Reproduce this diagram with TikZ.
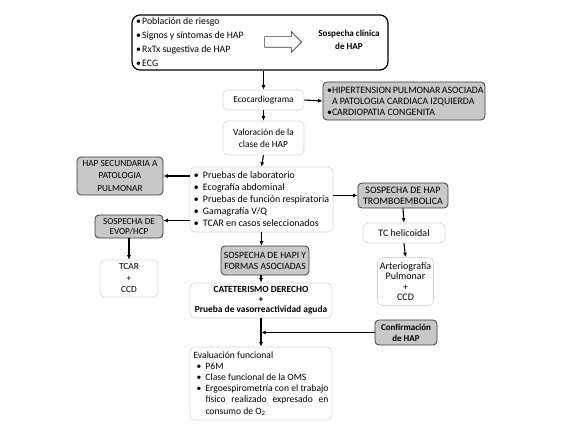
\documentclass[tikz,border=0pt]{standalone}
\usepackage{fontspec}
\setmainfont{Carlito}
\usetikzlibrary{arrows.meta,shapes.arrows,calc}
\definecolor{lightborder}{HTML}{D6D6D6}
\definecolor{darkborder}{HTML}{3A3A3A}
\definecolor{greyfill}{HTML}{C8C8C8}
\tikzset{
  lightbox/.style={draw=lightborder, fill=white, rounded corners=5pt, line width=0.6pt, align=center, inner sep=1pt, font=\fontsize{9.3}{11.5}\selectfont},
  darkbox/.style={draw=darkborder, fill=greyfill, rounded corners=4pt, line width=0.8pt, align=center, inner sep=1pt, font=\fontsize{9.3}{11}\selectfont},
  arr/.style={-{Latex[length=4.5pt,width=4pt]}, line width=1.1pt},
}
\newcommand{\bul}{\makebox[9pt][l]{\textbullet}}
\begin{document}
\begin{tikzpicture}[x=1pt,y=-1pt]
\useasboundingbox (0,0) rectangle (566,436);

% top box
\node[draw=black, line width=1.2pt, rounded corners=8pt, minimum width=256pt, minimum height=55pt] (top) at (260,42.5) {};
\node[anchor=west, align=left, inner sep=0pt, font=\fontsize{9.8}{14}\selectfont] (toplist) at (136,42.5)
  {\makebox[6pt][l]{\textbullet}Población de riesgo\\
   \makebox[6pt][l]{\textbullet}Signos y síntomas de HAP\\
   \makebox[6pt][l]{\textbullet}RxTx sugestiva de HAP\\
   \makebox[6pt][l]{\textbullet}ECG};
\node[single arrow, draw=darkborder, line width=0.6pt, fill=white, inner sep=5pt, minimum height=37pt, single arrow head extend=5pt] (hollow) at (280.5,42) {};
\node[align=center, inner sep=0pt, font=\bfseries\fontsize{9.1}{13}\selectfont] (sosp) at (349,39.5) {Sospecha clínica\\de HAP};

% main column
\node[lightbox, minimum width=81pt, minimum height=20pt] (eco) at (263.5,100) {Ecocardiograma};
\node[darkbox, minimum width=162pt, minimum height=38pt, align=left, font=\fontsize{9.8}{11}\selectfont] (hip) at (404,101)
  {\makebox[154pt][s]{\makebox[5pt][l]{\textbullet}HIPERTENSION PULMONAR ASOCIADA}\\
   \hspace*{5pt}A PATOLOGIA CARDIACA IZQUIERDA\\
   \makebox[5pt][l]{\textbullet}CARDIOPATIA CONGENITA};
\node[lightbox, minimum width=81pt, minimum height=34pt, font=\fontsize{9.4}{12}\selectfont] (val) at (263.5,138) {Valoración de la\\clase de HAP};
\node[lightbox, minimum width=143pt, minimum height=65pt, align=left, font=\fontsize{9.9}{12}\selectfont] (list) at (261.5,199.5)
  {\bul Pruebas de laboratorio\\
   \bul Ecografía abdominal\\
   \bul Pruebas de función respiratoria\\
   \bul Gamagrafía V/Q\\
   \bul TCAR en casos seleccionados};
\node[darkbox, minimum width=86pt, minimum height=38pt, font=\fontsize{9.3}{12.5}\selectfont] (hapsec) at (120,176) {HAP SECUNDARIA A\\PATOLOGIA\\PULMONAR};
\node[darkbox, minimum width=68pt, minimum height=23pt, font=\fontsize{9.2}{10.5}\selectfont] (evop) at (129,226.5) {SOSPECHA DE\\EVOP/HCP};
\node[lightbox, minimum width=58pt, minimum height=37pt, font=\fontsize{9.3}{11.5}\selectfont] (tcar) at (129,278.5) {TCAR\\+\\CCD};
\node[darkbox, minimum width=88pt, minimum height=29pt, font=\fontsize{9.6}{11}\selectfont] (hapi) at (265,260.5) {SOSPECHA DE HAPI Y\\FORMAS ASOCIADAS};
\node[lightbox, minimum width=142pt, minimum height=35pt, font=\bfseries\fontsize{9.4}{10}\selectfont] (cat) at (261,300.5) {CATETERISMO DERECHO\\+\\Prueba de vasorreactividad aguda};
\node[darkbox, minimum width=62pt, minimum height=25pt, font=\bfseries\fontsize{9}{11}\selectfont] (conf) at (406,332.5) {Confirmación\\de HAP};
\node[lightbox, minimum width=142pt, minimum height=73pt, text width=135pt, align=justify, font=\fontsize{9.6}{11.2}\selectfont] (eval) at (261,383.5)
  {Evaluación funcional\\
   \hspace*{3pt}\bul P6M\\
   \hspace*{3pt}\bul Clase funcional de la OMS\\
   \hspace*{3pt}\bul Ergoespirometría con el trabajo\linebreak
   \hspace*{12pt}físico realizado expresado en\linebreak
   \hspace*{12pt}consumo de O\textsubscript{2}\hfill\null};

% right column
\node[darkbox, minimum width=90pt, minimum height=25pt, font=\fontsize{9.9}{11}\selectfont] (trombo) at (403,195.5) {SOSPECHA DE HAP\\TROMBOEMBOLICA};
\node[lightbox, minimum width=82pt, minimum height=20pt, font=\fontsize{10}{11}\selectfont] (tch) at (404,233) {TC helicoidal};
\node[lightbox, minimum width=56pt, minimum height=48pt, font=\fontsize{10}{10.5}\selectfont] (arterio) at (405.5,281.5) {Arteriografía\\Pulmonar\\+\\CCD};

% connectors
\draw[arr] (eco.north |- top.south) -- (eco.north);
\draw[arr] (eco.east) -- (hip.west);
\draw[arr] (eco.south) -- (val.north);
\draw[arr] (val.south) -- (list.north);
\draw[arr] (list.west |- hapsec.east) -- (hapsec.east);
\draw[arr] ($(list.west |- evop.east)+(0,-6)$) -- ($(evop.east)+(0,-6)$);
\draw[arr] (list.east |- trombo.west) -- (trombo.west);
\draw[arr] (trombo.south) -- (tch.north);
\draw[arr] (tch.south) -- (arterio.north);
\draw[arr] (evop.south) -- (tcar.north);
\draw[arr] (list.south) -- (list.south |- hapi.north);
\draw[arr] (hapi.south -| cat.north) -- (cat.north);
\draw[arr] (cat.south) -- (eval.north);
\draw[arr] (conf.west) -- (conf.west -| cat.south);
\end{tikzpicture}
\end{document}
